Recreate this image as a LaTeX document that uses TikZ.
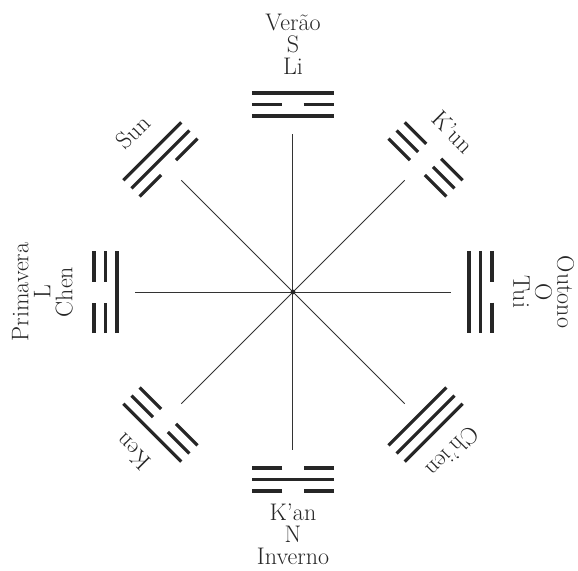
\documentclass[tikz,border=0pt]{standalone}
\usepackage{tikz}

% one line (yao) of a trigram: radius, 1 = solid, 0 = broken
\newcommand{\yaoline}[2]{%
  \ifnum#2=1
    \draw[yao] (-41,#1) -- (41,#1);
  \else
    \draw[yao] (-41,#1) -- (-10.5,#1) (10.5,#1) -- (41,#1);
  \fi}
% trigram: direction, inner, middle, outer line
\newcommand{\trigram}[4]{%
  \begin{scope}[rotate=#1-90]
    \yaoline{176}{#2}
    \yaoline{187.5}{#3}
    \yaoline{199}{#4}
  \end{scope}}

\begin{document}
\begin{tikzpicture}[x=1pt, y=1pt,
    yao/.style={line width=3.2pt, black!85},
    spoke/.style={line width=1pt, black!80},
    lbl/.style={inner sep=0pt, align=center, black!85,
      font=\fontsize{24}{22}\selectfont}]
    \useasboundingbox (-293,-278) rectangle (285,292);

    % Centro e raios
    \coordinate (O) at (0,0);
    \foreach \a in {0,45,...,315}
        \coordinate (r\a) at (\a:158);
    \foreach \a in {0,45,...,315}
        \draw[spoke] (O) -- (r\a);
    \fill[black!85] (O) circle (2.4);

    % Trigramas
    \trigram{90}{1}{0}{1}   % Li
    \trigram{270}{0}{1}{0}  % K'an
    \trigram{180}{1}{0}{0}  % Chen
    \trigram{0}{1}{1}{0}    % Tui
    \trigram{135}{0}{1}{1}  % Sun
    \trigram{45}{0}{0}{0}   % K'un
    \trigram{225}{0}{0}{1}  % Ken
    \trigram{315}{1}{1}{1}  % Ch'ien

    % Nomes
    \node[lbl, anchor=south] (li) at (90:217) {Verão\\S\\Li};
    \node[lbl, anchor=north] (kan) at (270:212) {K'an\\N\\Inverno};
    \node[lbl, anchor=south, rotate=90] (chen) at (180:220) {Primavera\\L\\Chen};
    \node[lbl, anchor=south, rotate=-90] (tui) at (0:220) {Outono\\O\\Tui};
    \node[lbl, anchor=base, rotate=45] (sun) at (135:218) {Sun};
    \node[lbl, anchor=base, rotate=-45] (kun) at (45:218) {K'un};
    \node[lbl, anchor=base, rotate=135] (ken) at (225:218) {Ken};
    \node[lbl, anchor=base, rotate=-135] (chien) at (315:218) {Ch'ien};
\end{tikzpicture}
\end{document}
